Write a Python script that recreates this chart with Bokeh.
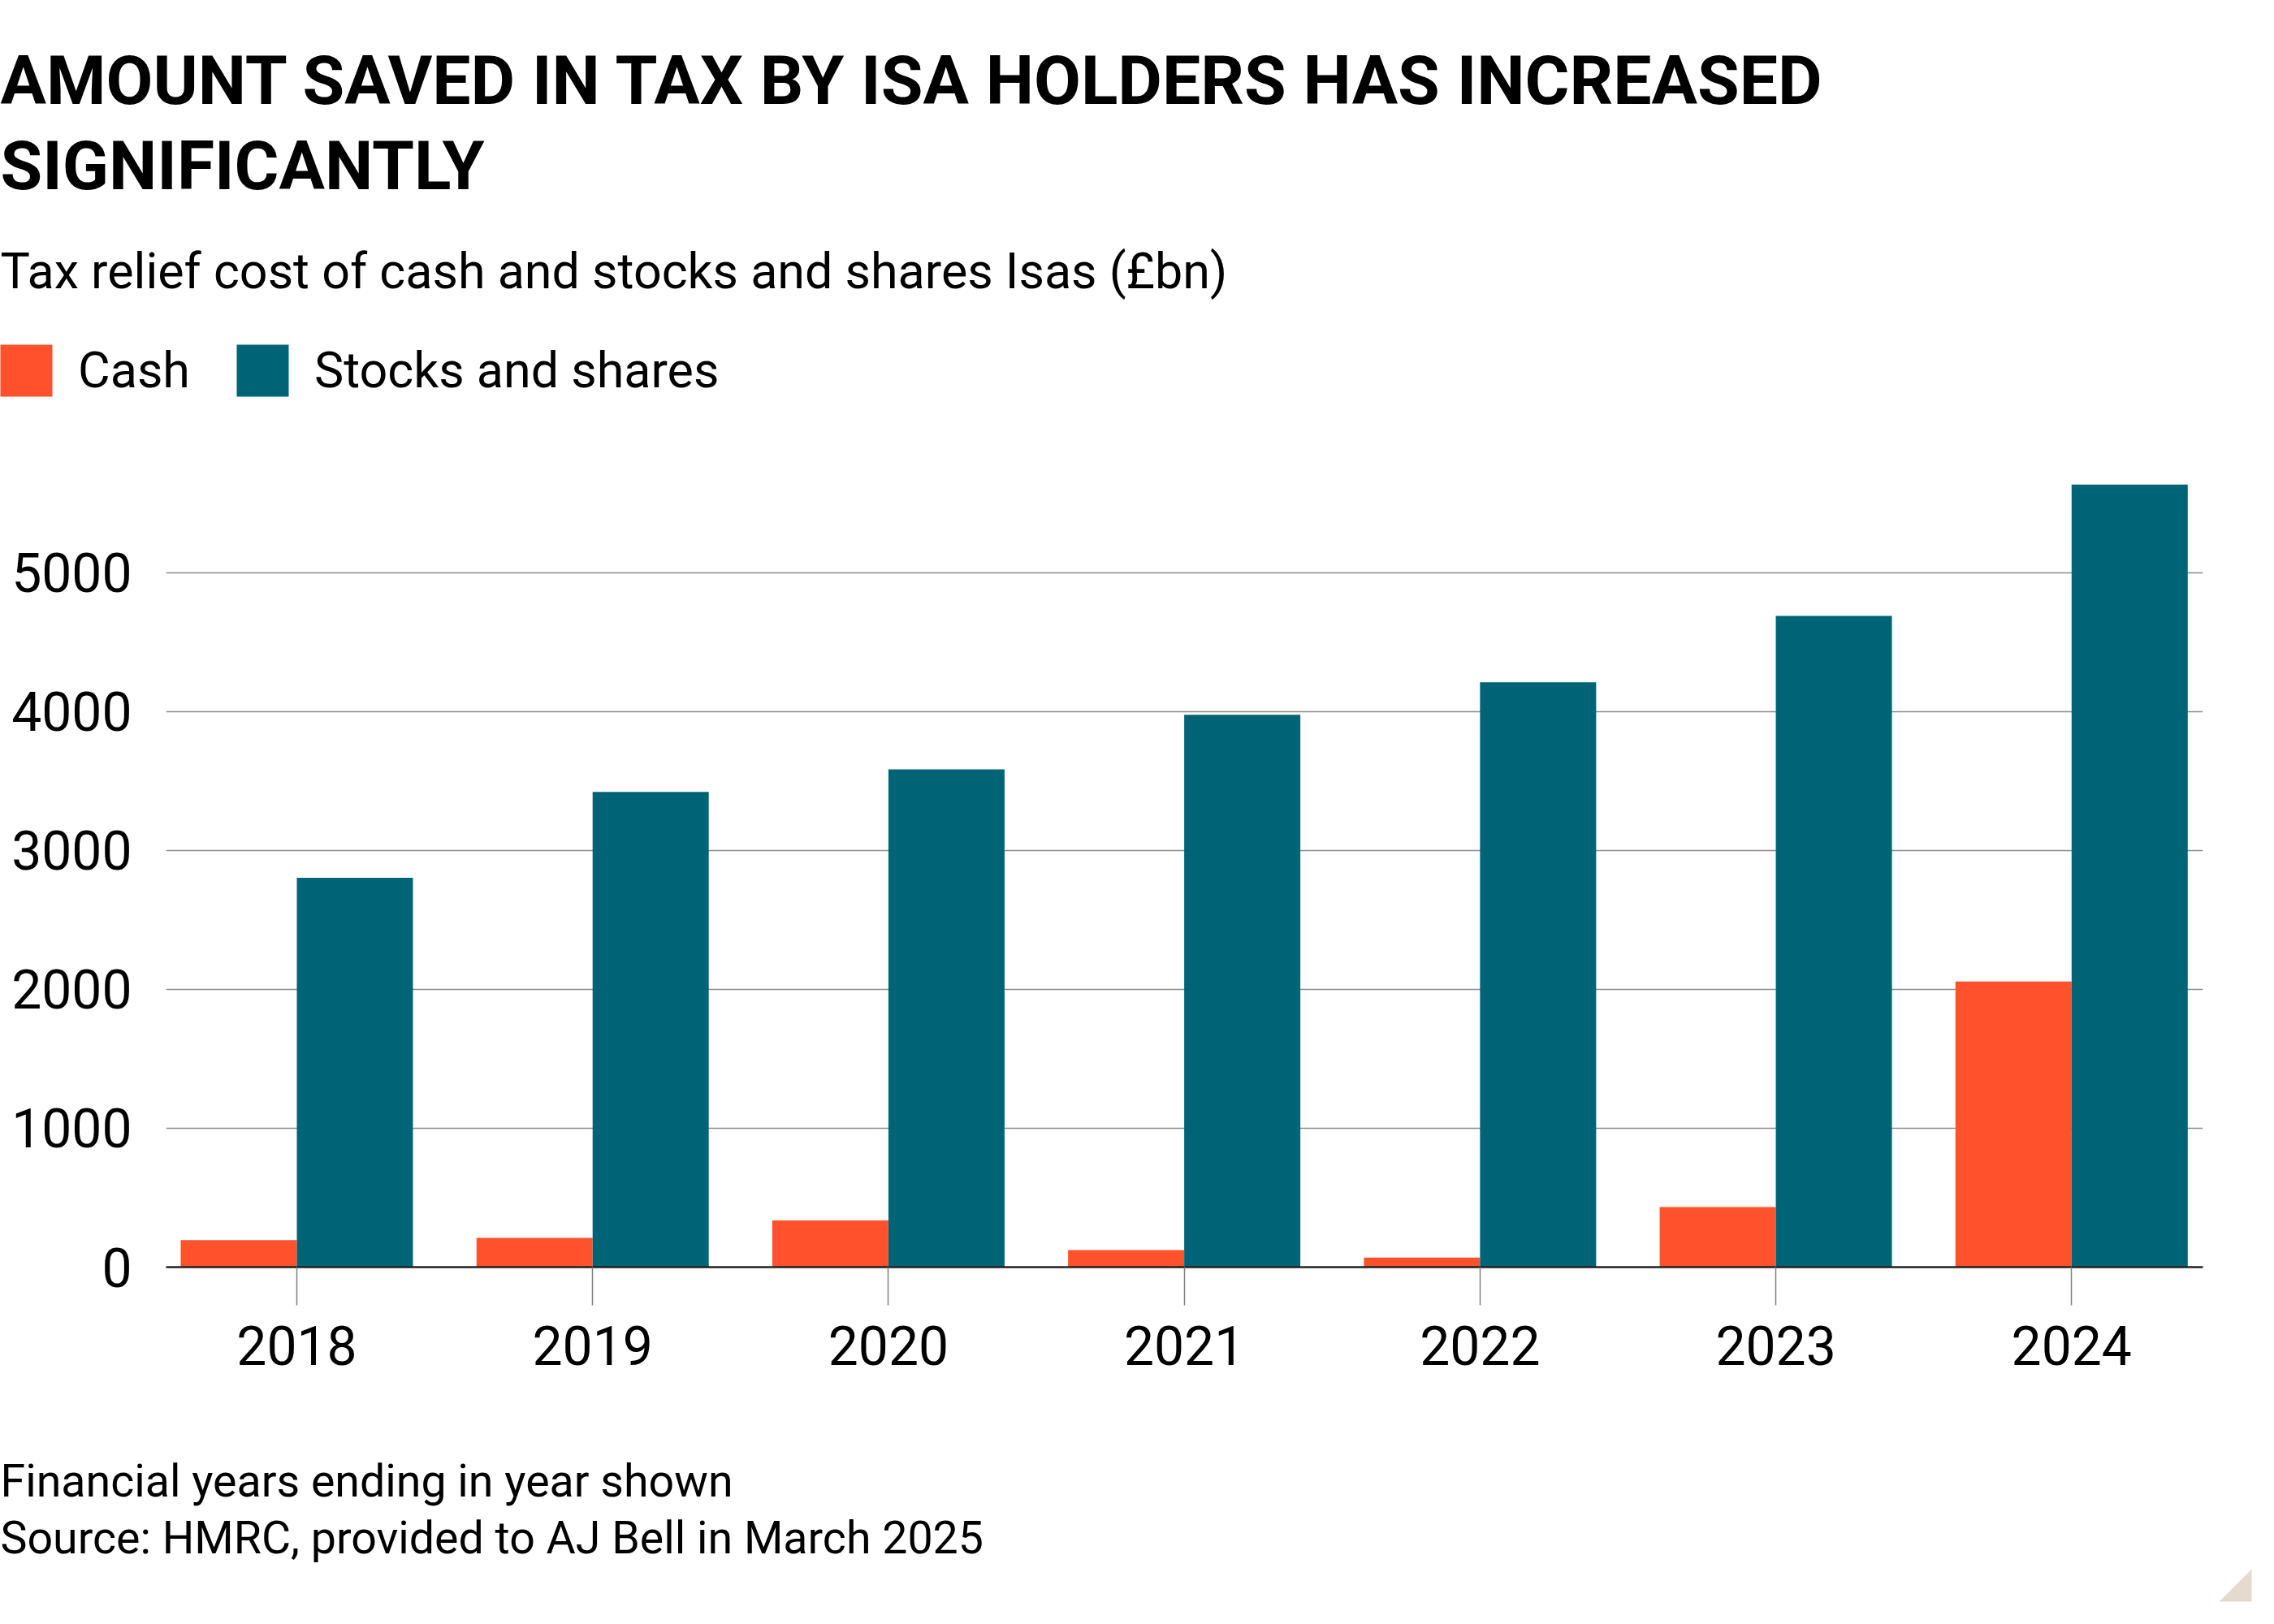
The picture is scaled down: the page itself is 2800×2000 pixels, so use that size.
from bokeh.plotting import figure
from bokeh.models import (Range1d, FixedTicker, Label, Legend, LegendItem,
                          PolyAnnotation, ColumnDataSource)
from bokeh.transform import dodge
from bokeh.embed import file_html
from bokeh.resources import INLINE

# ---- data ----
years = ["2018", "2019", "2020", "2021", "2022", "2023", "2024"]
cash = [195, 211, 336, 123, 68, 432, 2057]
stocks = [2804, 3423, 3585, 3978, 4212, 4690, 5636]
y_ticks = [0, 1000, 2000, 3000, 4000, 5000]

title_lines = ["AMOUNT SAVED IN TAX BY ISA HOLDERS HAS INCREASED", "SIGNIFICANTLY"]
subtitle = "Tax relief cost of cash and stocks and shares Isas (£bn)"
series_names = ["Cash", "Stocks and shares"]
notes = ["Financial years ending in year shown",
         "Source: HMRC, provided to AJ Bell in March 2025"]

# ---- style ----
ORANGE = "#FF522C"
TEAL = "#006476"
FONT = "Roboto"
W = 2784
HH, CH, FH = 500, 1280, 204           # header, chart, footer heights
X0, X1 = -0.442, 6.444
Y1 = 5719
FL, FR = 204, 2712                     # frame left/right on canvas
FT, FB = 82, 1060                      # frame top/bottom inside chart figure


def blank(height):
    f = figure(width=W, height=height, output_backend="svg", toolbar_location=None,
               x_range=Range1d(0, W), y_range=Range1d(height, 0),
               x_axis_location=None, y_axis_location=None, min_border=0)
    f.outline_line_color = None
    f.grid.visible = False
    f.background_fill_color = "white"
    f.border_fill_color = "white"
    return f


def add_text(fig, text, y, size, style="normal"):
    fig.add_layout(Label(x=0, y=y, text=text, text_font=FONT,
                         text_font_size=size, text_font_style=style,
                         text_color="black", text_align="left",
                         text_baseline="alphabetic"))


# ---- header ----
hdr = blank(HH)
add_text(hdr, title_lines[0], 99, "84px", "bold")
add_text(hdr, title_lines[1], 204, "84px", "bold")
add_text(hdr, subtitle, 333, "61px")
# legend proxies (one point each, placed outside the visible header area)
k1 = hdr.vbar(x=[-500], top=[0], width=1, fill_color=ORANGE, line_color=None)
k2 = hdr.vbar(x=[-500], top=[0], width=1, fill_color=TEAL, line_color=None)
legend = Legend(items=[LegendItem(label=series_names[0], renderers=[k1]),
                       LegendItem(label=series_names[1], renderers=[k2])],
                orientation="horizontal", location=(-8, HH - 496),
                glyph_width=80, glyph_height=80, label_standoff=24, spacing=49,
                padding=0, margin=0, border_line_color=None,
                background_fill_alpha=0,
                label_text_font=FONT, label_text_font_size="61px",
                label_text_color="black")
hdr.add_layout(legend)

# ---- chart ----
p = figure(width=W, height=CH, output_backend="svg", toolbar_location=None,
           x_range=Range1d(X0, X1), y_range=Range1d(0, Y1),
           min_border_left=FL, min_border_right=W - FR,
           min_border_top=FT, min_border_bottom=CH - FB)
p.outline_line_color = None
p.background_fill_color = "white"
p.border_fill_color = "white"

src = ColumnDataSource(dict(idx=list(range(len(years))), cash=cash, stocks=stocks))
bw = 0.3926
p.vbar(x=dodge("idx", -bw / 2, range=p.x_range), top="cash", width=bw,
       source=src, fill_color=ORANGE, line_color=None)
p.vbar(x=dodge("idx", bw / 2, range=p.x_range), top="stocks", width=bw,
       source=src, fill_color=TEAL, line_color=None)

p.xgrid.visible = False
p.ygrid.ticker = FixedTicker(ticks=y_ticks)
p.ygrid.grid_line_color = "#8a8a8a"
p.ygrid.grid_line_width = 1.5

p.yaxis.ticker = FixedTicker(ticks=y_ticks)
p.yaxis.axis_line_color = None
p.yaxis.major_tick_line_color = None
p.yaxis.minor_tick_line_color = None
p.yaxis.major_tick_out = 0
p.yaxis.major_label_standoff = 42
p.yaxis.major_label_text_font = FONT
p.yaxis.major_label_text_font_size = "66px"
p.yaxis.major_label_text_color = "black"

p.xaxis.ticker = FixedTicker(ticks=list(range(len(years))))
p.xaxis.major_label_overrides = {i: y for i, y in enumerate(years)}
p.xaxis.axis_line_color = "#222222"
p.xaxis.axis_line_width = 2.5
p.xaxis.major_tick_line_color = "#808080"
p.xaxis.major_tick_line_width = 1.5
p.xaxis.major_tick_out = 47
p.xaxis.major_tick_in = 0
p.xaxis.minor_tick_line_color = None
p.xaxis.major_label_standoff = 25
p.xaxis.major_label_text_font = FONT
p.xaxis.major_label_text_font_size = "66px"
p.xaxis.major_label_text_color = "black"

# ---- footer ----
ftr = blank(FH)
add_text(ftr, notes[0], 44, "55.5px")
add_text(ftr, notes[1], 114, "55.5px")
ftr.add_layout(PolyAnnotation(xs=[2732, 2772, 2772], ys=[192, 192, 152],
                              fill_color="#E6DACE", fill_alpha=1, line_color=None))

# three stacked roots (kept separate so their frames are not aligned)
open("out.html", "w").write(file_html([hdr, p, ftr], INLINE))
